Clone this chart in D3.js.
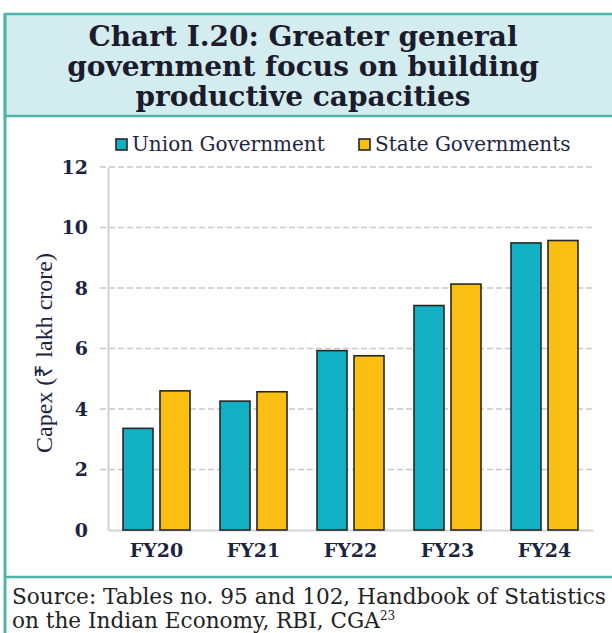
<!DOCTYPE html>
<html>
<head>
<meta charset="utf-8">
<script src="https://cdn.jsdelivr.net/npm/d3@7"></script>
<style>
  body { margin: 0; background: #fff; }
  svg { display: block; }
</style>
</head>
<body>
<div id="chart"></div>
<script>
// data
var categories = ["FY20", "FY21", "FY22", "FY23", "FY24"];
var seriesNames = ["Union Government", "State Governments"];
var unionCapex = [3.36, 4.26, 5.93, 7.42, 9.49];
var stateCapex = [4.60, 4.57, 5.76, 8.13, 9.57];
var yTicks = [0, 2, 4, 6, 8, 10, 12];
var titleLines = ["Chart I.20: Greater general", "government focus on building", "productive capacities"];
var sourceLines = ["Source: Tables no. 95 and 102, Handbook of Statistics", "on the Indian Economy, RBI, CGA"];

var W = 612, H = 633;
var teal = "#4fb5a8";
var txt = "#1c2540";
var colors = ["#12b0c4", "#fbbf13"];

var svg = d3.select("#chart").append("svg")
	.attr("width", W)
	.attr("height", H);

// frame + title box
svg.append("rect")
	.attr("x", 5).attr("y", 14)
	.attr("width", W + 20).attr("height", 102)
	.attr("fill", "#d3ecef")
	.attr("stroke", teal).attr("stroke-width", 2.5);
svg.append("line")
	.attr("x1", 5).attr("x2", 5).attr("y1", 14).attr("y2", H + 5)
	.attr("stroke", teal).attr("stroke-width", 3);
svg.append("line")
	.attr("x1", 5).attr("x2", W + 5).attr("y1", 577).attr("y2", 577)
	.attr("stroke", teal).attr("stroke-width", 2.5);

svg.selectAll("text.title")
	.data(titleLines)
	.enter()
	.append("text")
		.attr("class", "title")
		.attr("x", 303)
		.attr("y", function(d, i){ return 46 + i * 30; })
		.attr("text-anchor", "middle")
		.attr("font-family", "DejaVu Serif")
		.attr("font-weight", "bold")
		.attr("font-size", 28)
		.attr("fill", "#1b1b2b")
		.text(function(d){ return d; });

// source
var src = svg.selectAll("text.src")
	.data(sourceLines)
	.enter()
	.append("text")
		.attr("class", "src")
		.attr("x", 12)
		.attr("y", function(d, i){ return 604 + i * 24; })
		.attr("font-family", "DejaVu Serif")
		.attr("font-size", 21.6)
		.attr("fill", "#222")
		.text(function(d){ return d; });
src.filter(function(d, i){ return i == 1; })
	.append("tspan")
		.attr("font-size", 12)
		.attr("dy", -8)
		.text("23");

// plot area
var plotLeft = 108, plotRight = 593, plotTop = 167, plotBottom = 530;

var y = d3.scaleLinear().domain([0, 12]).range([plotBottom, plotTop]);
var x0 = d3.scaleBand().domain(categories).range([plotLeft, plotRight]);
var x1 = d3.scaleBand().domain(seriesNames).range([15, 82]).paddingInner(0.189);

// gridlines
svg.append("g")
	.selectAll("line")
	.data(yTicks.filter(function(d){ return d > 0; }))
	.enter()
	.append("line")
		.attr("x1", plotLeft - 8).attr("x2", plotRight)
		.attr("y1", function(d){ return y(d); })
		.attr("y2", function(d){ return y(d); })
		.attr("stroke", "#c8c8c8")
		.attr("stroke-width", 1.3)
		.attr("stroke-dasharray", "6,3");

var yAxis = svg.append("g")
	.attr("transform", "translate(" + plotLeft + ",0)")
	.call(d3.axisLeft(y).tickValues(yTicks).tickSize(0).tickPadding(20));
yAxis.select(".domain").attr("stroke", "#d3d3d3").attr("stroke-width", 2);
yAxis.selectAll("text")
	.attr("font-family", "DejaVu Serif")
	.attr("font-weight", "bold")
	.attr("font-size", 19)
	.attr("fill", txt);

var xAxis = svg.append("g")
	.attr("transform", "translate(0," + plotBottom + ")")
	.call(d3.axisBottom(x0).tickSize(0).tickPadding(14));
xAxis.select(".domain").attr("stroke", "#d3d3d3").attr("stroke-width", 2);
xAxis.selectAll("text")
	.attr("font-family", "DejaVu Serif")
	.attr("font-weight", "bold")
	.attr("font-size", 19)
	.attr("fill", txt);

// bars
var rows = categories.map(function(c, i){
	return [
		{cat: c, s: seriesNames[0], v: unionCapex[i]},
		{cat: c, s: seriesNames[1], v: stateCapex[i]}
	];
});

svg.append("g")
	.selectAll("g")
	.data(rows)
	.enter()
	.append("g")
		.attr("transform", function(d){ return "translate(" + x0(d[0].cat) + ",0)"; })
	.selectAll("rect")
	.data(function(d){ return d; })
	.enter()
	.append("rect")
		.attr("x", function(d){ return x1(d.s); })
		.attr("y", function(d){ return y(d.v); })
		.attr("width", x1.bandwidth())
		.attr("height", function(d){ return y(0) - y(d.v); })
		.attr("fill", function(d, i){ return colors[i]; })
		.attr("stroke", "#262626")
		.attr("stroke-width", 1.6);

// y title
svg.append("text")
	.attr("transform", "translate(52,353) rotate(-90)")
	.attr("text-anchor", "middle")
	.attr("font-family", "Liberation Serif")
	.attr("font-size", 24)
	.attr("fill", txt)
	.text("Capex (₹ lakh crore)");

// legend
var legX = [116, 359];
var leg = svg.append("g")
	.selectAll("g")
	.data(seriesNames)
	.enter()
	.append("g")
		.attr("transform", function(d, i){ return "translate(" + legX[i] + ",139)"; });
leg.append("rect")
	.attr("width", 11).attr("height", 11)
	.attr("fill", function(d, i){ return colors[i]; })
	.attr("stroke", "#262626")
	.attr("stroke-width", 1.6);
leg.append("text")
	.attr("x", 16).attr("y", 12)
	.attr("font-family", "DejaVu Serif")
	.attr("font-size", 20)
	.attr("fill", txt)
	.text(function(d){ return d; });
</script>
</body>
</html>
